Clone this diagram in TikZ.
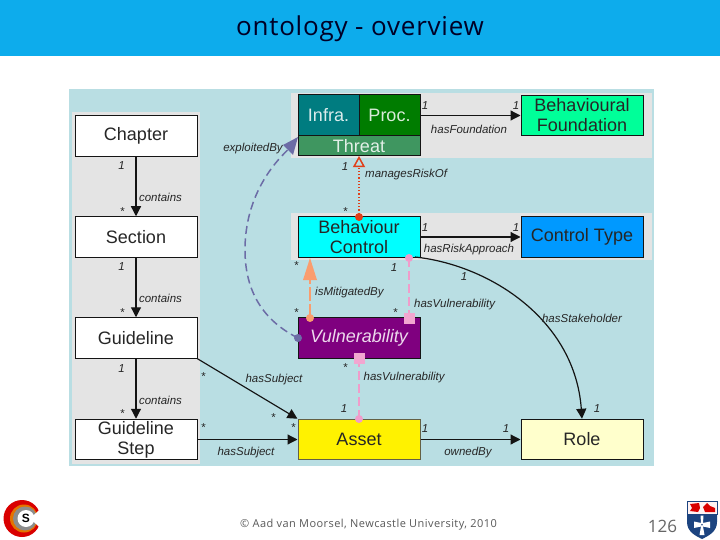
\documentclass[tikz,border=0pt]{standalone}
\usepackage{fontspec}
\setmainfont{Liberation Sans}
\newfontfamily\slidefont{Open Sans}
\usetikzlibrary{arrows.meta,calc}
\definecolor{titlebar}{HTML}{0DACEC}
\definecolor{panelblue}{HTML}{B9DEE3}
\definecolor{panelgrey}{HTML}{E4E4E4}
\definecolor{edgedark}{HTML}{141414}
\definecolor{infra}{HTML}{007C80}
\definecolor{proc}{HTML}{007C00}
\definecolor{threat}{HTML}{3F9660}
\definecolor{foundation}{HTML}{00FF99}
\definecolor{control}{HTML}{00FFFF}
\definecolor{ctype}{HTML}{0099FF}
\definecolor{vuln}{HTML}{7F007F}
\definecolor{rolefill}{HTML}{FFFFCC}
\definecolor{pinkline}{HTML}{F09CCB}
\definecolor{orangeline}{HTML}{FA9D6E}
\definecolor{redline}{HTML}{E0401A}
\definecolor{purpleline}{HTML}{6C6CA6}
\definecolor{crestblue}{HTML}{1C4480}
\tikzset{
  x=1pt,y=-1pt,
  classbox/.style={draw=edgedark,line width=1pt,minimum width=122pt,minimum height=40.5pt,inner sep=0pt,align=center,font=\fontsize{18}{21}\selectfont,text=black!85},
  partbox/.style={draw=edgedark,line width=1pt,inner sep=0pt,align=center,font=\fontsize{18}{21}\selectfont},
  rel/.style={draw=edgedark,line width=1.2pt},
  solidarrow/.style={rel,-{Triangle[length=10pt,width=10pt]}},
  lab/.style={font=\itshape\fontsize{11.5}{13}\selectfont,text=black!85,inner sep=0pt,yshift=-1.5pt},
  mult/.style={font=\itshape\fontsize{11.5}{13}\selectfont,text=black!85,inner sep=0pt,yshift=-1pt},
  pinkdash/.style={draw=pinkline,line width=2pt,dash pattern=on 9pt off 4pt},
  pinksq/.style={fill=pinkline!90!white,minimum size=11pt,inner sep=0pt},
}
\begin{document}
\begin{tikzpicture}
\useasboundingbox (0,0) rectangle (720,540);
\fill[white] (0,0) rectangle (720,540);
\fill[titlebar] (0,0) rectangle (720,56);
\node[font=\slidefont\fontsize{26}{30}\selectfont,text=black!85!blue] (title) at (360,28.5) {\addfontfeatures{LetterSpace=3}ontology - overview};
\fill[panelblue] (69,89) rectangle (654,466);
\fill[panelgrey] (72,112) rectangle (200,464);
\fill[panelgrey] (291,93) rectangle (652,158);
\fill[panelgrey] (291,213) rectangle (652,260);
% classes
\node[classbox,fill=white] (chapter) at (136,136) {Chapter};
\node[classbox,fill=white] (section) at (136,237) {Section};
\node[classbox,fill=white] (guideline) at (136,338) {Guideline};
\node[classbox,fill=white] (step) at (136,439.5) {Guideline\\[-1pt]Step};
\node[partbox,fill=infra,text=white!85!infra,minimum width=61pt,minimum height=41pt] (infra) at (328.5,115.5) {Infra.};
\node[partbox,fill=proc,text=white!85!proc,minimum width=61pt,minimum height=41pt] (proc) at (389.5,115.5) {Proc.};
\node[partbox,fill=threat,text=white!85!threat,minimum width=122pt,minimum height=20pt] (threat) at (359,146) {Threat};
\node[classbox,fill=foundation] (found) at (582,115.5) {Behavioural\\[-1pt]Foundation};
\node[classbox,fill=control] (bc) at (359,237) {Behaviour\\[-1pt]Control};
\node[classbox,fill=ctype] (ctype) at (582,237) {Control Type};
\node[classbox,fill=vuln,text=white!85!vuln,font=\itshape\fontsize{18}{21}\selectfont] (vuln) at (359,338) {Vulnerability};
\node[classbox,fill=yellow,draw=black!70!yellow] (asset) at (359,439.5) {Asset};
\node[classbox,fill=rolefill] (role) at (582,439.5) {Role};
% connectors
\draw[solidarrow] (chapter) -- (section);
\draw[solidarrow] (section) -- (guideline);
\draw[solidarrow] (guideline) -- (step);
\draw[solidarrow] (threat.north east |- found.west) -- (found.west);
\draw[solidarrow] (bc) -- (ctype);
\draw[solidarrow] (asset) -- (role);
\draw[solidarrow] (guideline.south east) -- (asset.north west);
\draw[solidarrow] (step) -- (asset);
\coordinate (bcstart) at (415,257);
\draw[solidarrow] (bcstart) .. controls (490,265) and (575,320) .. (role.north);
% orange
\draw[draw=orangeline,line width=2pt,dash pattern=on 14pt off 3pt] (310,318) -- (310,272);
\fill[orangeline] (310,258) -- (303,280) -- (317,280) -- cycle;
\fill[orangeline] (310,318) circle (4pt);
% pink
\draw[pinkdash] (409,258) -- (409,318);
\fill[pinkline] (409,258) circle (4pt);
\node[pinksq] (psq1) at (409,318) {};
\draw[pinkdash] (359,358) -- (359,419);
\node[pinksq] (psq2) at (359,358) {};
\fill[pinkline] (359,419) circle (4pt);
% red
\draw[draw=redline,line width=1.2pt,dotted] (359,217) -- (359,168);
\fill[redline] (359,217) circle (4pt);
\draw[draw=redline,line width=1.5pt,fill=panelblue] (359,157.5) -- (354,166.5) -- (364,166.5) -- cycle;
% purple
\draw[draw=purpleline,line width=1.5pt,dash pattern=on 8pt off 4.5pt] (298,338) .. controls (258,318) and (245,285) .. (245,250) .. controls (245,205) and (265,170) .. (292,146);
\fill[purpleline] (298,137) -- (283,145) -- (293,155) -- cycle;
\fill[purpleline] (298,338) circle (4pt);
% association labels
\node[lab] at (160.5,196) {contains};
\node[lab] at (160.5,297) {contains};
\node[lab] at (160.5,398.5) {contains};
\node[mult] at (121.5,165) {1};
\node[mult] at (121.5,266) {1};
\node[mult] at (121.5,368) {1};
\node[mult] at (122,211) {*};
\node[mult] at (122,312) {*};
\node[mult] at (122,413) {*};
\node[lab] at (253,147) {exploitedBy};
\node[mult] at (425,105) {1};
\node[mult] at (516,105) {1};
\node[lab] at (469,127.5) {hasFoundation};
\node[mult] at (345,166) {1};
\node[mult] at (345,211) {*};
\node[lab,anchor=west] at (365,173.5) {managesRiskOf};
\node[mult] at (425,227) {1};
\node[mult] at (516,227) {1};
\node[lab] at (469,248) {hasRiskApproach};
\node[mult] at (296,265) {*};
\node[mult] at (394,267) {1};
\node[mult] at (464,276) {1};
\node[lab,anchor=west] at (315,291) {isMitigatedBy};
\node[mult] at (296,312) {*};
\node[mult] at (395,312) {*};
\node[lab,anchor=west] at (414,303) {hasVulnerability};
\node[lab] at (582,317) {hasStakeholder};
\node[mult] at (345,367) {*};
\node[lab,anchor=west] at (363.5,376) {hasVulnerability};
\node[lab] at (274,378) {hasSubject};
\node[mult] at (203,376) {*};
\node[mult] at (273,417) {*};
\node[mult] at (203,427) {*};
\node[mult] at (293,427) {*};
\node[lab] at (246,451) {hasSubject};
\node[mult] at (344,408) {1};
\node[mult] at (425,428) {1};
\node[mult] at (506,428) {1};
\node[mult] at (597,408) {1};
\node[lab] at (468,451) {ownedBy};
% footer
\node[font=\slidefont\fontsize{11}{13}\selectfont,text=black!65] (foot) at (368.5,525) {\addfontfeatures{LetterSpace=4}© Aad van Moorsel, Newcastle University, 2010};
\node[font=\slidefont\fontsize{17}{20}\selectfont,text=black!60] (num) at (662.5,526) {126};
% left logo
\fill[red!85!black] (22,518.5) circle (18.5pt);
\fill[orange!90!black] (24,518.5) circle (14pt);
\fill[black!45] (25,518.5) circle (12pt);
\fill[white] (26,518.5) circle (8.5pt);
\fill[white] (30,518.5) -- (48,502) -- (48,535) -- cycle;
\node[font=\bfseries\fontsize{12}{12}\selectfont,text=black,inner sep=0pt] (logos) at (26,518.5) {S};
% crest
\fill[crestblue] (687,513) -- (717,513) -- (717,522) .. controls (717,532) and (708,536) .. (702,539) .. controls (696,536) and (687,532) .. (687,522) -- cycle;
\fill[white!95!red] (687,501) rectangle (717,514);
\draw[crestblue,line width=0.7pt] (687,501) rectangle (717,514);
\fill[red!85!black] (690,504) -- (699,503) -- (700,508) -- (698,512) -- (690,511) -- (692,508) -- cycle;
\fill[red!85!black] (703,507) -- (707,503) -- (710,506) -- (715,508) -- (715,512) -- (705,512) -- cycle;
\fill[white] (700.5,515.5) -- (703.5,515.5) -- (703,523) -- (710,521.5) -- (710,528) -- (703,526.5) -- (704.5,535) -- (699.5,535) -- (701,526.5) -- (694,528) -- (694,521.5) -- (701,523) -- cycle;
\fill[crestblue] (702,524.7) circle (0.9pt);
\end{tikzpicture}
\end{document}
